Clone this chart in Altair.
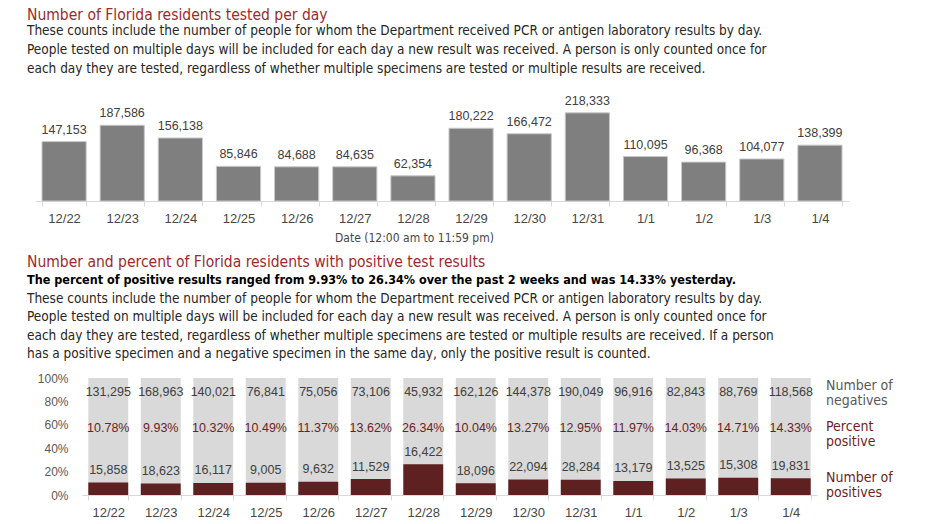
import altair as alt
import pandas as pd

# ---------------- data ----------------
dates = ["12/22", "12/23", "12/24", "12/25", "12/26", "12/27", "12/28",
         "12/29", "12/30", "12/31", "1/1", "1/2", "1/3", "1/4"]
tested = [147153, 187586, 156138, 85846, 84688, 84635, 62354,
          180222, 166472, 218333, 110095, 96368, 104077, 138399]
negatives = [131295, 168963, 140021, 76841, 75056, 73106, 45932,
             162126, 144378, 190049, 96916, 82843, 88769, 118568]
positives = [15858, 18623, 16117, 9005, 9632, 11529, 16422,
             18096, 22094, 28284, 13179, 13525, 15308, 19831]
pct_positive = [10.78, 9.93, 10.32, 10.49, 11.37, 13.62, 26.34,
                10.04, 13.27, 12.95, 11.97, 14.03, 14.71, 14.33]
pct_ticks = [0, 20, 40, 60, 80, 100]

title1 = "Number of Florida residents tested per day"
body1 = [
    "These counts include the number of people for whom the Department received PCR or antigen laboratory results by day.",
    "People tested on multiple days will be included for each day a new result was received. A person is only counted once for",
    "each day they are tested, regardless of whether multiple specimens are tested or multiple results are received.",
]
axis_title1 = "Date (12:00 am to 11:59 pm)"
title2 = "Number and percent of Florida residents with positive test results"
bold2 = "The percent of positive results ranged from 9.93% to 26.34% over the past 2 weeks and was 14.33% yesterday."
body2 = [
    "These counts include the number of people for whom the Department received PCR or antigen laboratory results by day.",
    "People tested on multiple days will be included for each day a new result was received. A person is only counted once for",
    "each day they are tested, regardless of whether multiple specimens are tested or multiple results are received. If a person",
    "has a positive specimen and a negative specimen in the same day, only the positive result is counted.",
]
legend_neg = "Number of\nnegatives"
legend_pct = "Percent\npositive"
legend_pos = "Number of\npositives"

# ---------------- style ----------------
TFONT = "DejaVu Sans Condensed, sans-serif"
NFONT = "Liberation Sans, Arial, sans-serif"
RED = "#9C2A2E"
TXT = "#262626"
LBL = "#404040"
AX = "#474747"
GRID = "#D9D9D9"
TOPBAR = "#7F7F7F"
NEG = "#D9D9D9"
POS = "#5E2020"
PCT = "#6B1F1F"
W = 735

# ---------------- header 1 ----------------
h1 = pd.DataFrame({"i": [0, 1, 2, 3], "text": [title1] + body1,
                   "kind": ["head", "body", "body", "body"]})
y_h1 = alt.Y("i:Q", axis=None,
             scale=alt.Scale(domain=[-0.3158, 4.2105], reverse=True, nice=False, zero=False))
base_h1 = alt.Chart(h1).encode(x=alt.value(-55), y=y_h1, text="text:N")
header1 = alt.layer(
    base_h1.transform_filter("datum.kind == 'head'").mark_text(
        align="left", baseline="middle", dy=2.8, font=TFONT, fontSize=15.5, color=RED),
    base_h1.transform_filter("datum.kind == 'body'").mark_text(
        align="left", baseline="middle", font=TFONT, fontSize=13.5, color=TXT),
).properties(width=W, height=86)

# ---------------- top bar chart ----------------
top_df = pd.DataFrame({"date": dates, "tested": tested})
x1 = alt.X("date:N", sort=dates,
           scale=alt.Scale(range=[-47, 767], paddingInner=0.24, paddingOuter=0.12),
           axis=alt.Axis(title=axis_title1, labelAngle=0, tickBand="extent", ticks=True,
                         tickSize=5, tickColor=GRID, domainColor=GRID, labelFont=NFONT,
                         labelFontSize=13, labelColor=AX, labelPadding=6,
                         titleFont=TFONT, titleFontSize=12, titleColor=AX,
                         titleFontWeight="normal", titleX=332, titleY=36,
                         titleAlign="center", titleBaseline="middle"))
y1 = alt.Y("tested:Q", axis=None,
           scale=alt.Scale(domain=[0, 270000], nice=False))
top_base = alt.Chart(top_df).encode(x=x1, y=y1)
top_chart = alt.layer(
    top_base.mark_bar(color=TOPBAR, stroke="#C8C8C8", strokeWidth=1),
    top_base.mark_text(baseline="bottom", dy=-5, font=NFONT, fontSize=12.5, color=LBL).encode(
        text=alt.Text("tested:Q", format=",")),
).properties(width=767, height=109)

# ---------------- header 2 ----------------
h2 = pd.DataFrame({"i": [0, 1, 2, 3, 4, 5], "text": [title2, bold2] + body2,
                   "kind": ["head", "bold", "body", "body", "body", "body"]})
y_h2 = alt.Y("i:Q", axis=None,
             scale=alt.Scale(domain=[-3.315, 6.304], reverse=True, nice=False, zero=False))
base_h2 = alt.Chart(h2).encode(x=alt.value(-55), y=y_h2, text="text:N")
header2 = alt.layer(
    base_h2.transform_filter("datum.kind == 'head'").mark_text(
        align="left", baseline="middle", font=TFONT, fontSize=15.5, color=RED),
    base_h2.transform_filter("datum.kind == 'bold'").mark_text(
        align="left", baseline="middle", font=TFONT, fontSize=12.5, fontWeight="bold", color="#000000"),
    base_h2.transform_filter("datum.kind == 'body'").mark_text(
        align="left", baseline="middle", font=TFONT, fontSize=13.5, color=TXT),
).properties(width=W, height=177)

# ---------------- bottom stacked chart ----------------
bot_df = pd.DataFrame({"date": dates, "neg": negatives, "pos": positives,
                       "pct": pct_positive})
bot_df["pct_label"] = [f"{p:.2f}%" for p in pct_positive]
x2 = alt.X("date:N", sort=dates,
           scale=alt.Scale(paddingInner=0.24, paddingOuter=0.12),
           axis=alt.Axis(title=None, labelAngle=0, tickBand="extent", ticks=True,
                         tickSize=5, tickColor=GRID, domainColor=GRID, labelFont=NFONT,
                         labelFontSize=13, labelColor=AX, labelPadding=6))
yscale2 = alt.Scale(domain=[0, 100], nice=False)
yaxis2 = alt.Axis(title=None, values=pct_ticks, grid=False, ticks=False,
                  domain=False, labelExpr="datum.value + '%'", labelFont=NFONT,
                  labelFontSize=12, labelColor="#595959", labelPadding=14,
                  labelOverlap=False, labelFlush=False)
bot_base = alt.Chart(bot_df).encode(x=x2)
full_bar = bot_base.mark_bar(color=NEG).transform_calculate(full="100").encode(
    y=alt.Y("full:Q", scale=yscale2, axis=yaxis2), y2=alt.datum(0))
pos_bar = bot_base.mark_bar(color=POS).encode(
    y=alt.Y("pct:Q", scale=yscale2, axis=yaxis2))
neg_text = bot_base.mark_text(baseline="middle", font=NFONT, fontSize=12.5, color=LBL).encode(
    y=alt.YDatum(88, axis=yaxis2), text=alt.Text("neg:Q", format=","))
pct_text = bot_base.mark_text(baseline="middle", font=NFONT, fontSize=12.5, color=PCT).encode(
    y=alt.YDatum(57.3, axis=yaxis2), text="pct_label:N")
pos_text = bot_base.mark_text(baseline="middle", dy=-12.5, font=NFONT, fontSize=12.5, color=LBL).encode(
    y=alt.Y("pct:Q", axis=yaxis2), text=alt.Text("pos:Q", format=","))


def legend_text(label, ypos, color):
    return alt.Chart(pd.DataFrame({"t": [label]})).mark_text(
        align="left", baseline="middle", lineBreak="\n", lineHeight=15,
        font=TFONT, fontSize=14, color=color).encode(
        x=alt.value(W + 9), y=alt.YDatum(ypos, axis=yaxis2), text="t:N")


bottom_chart = alt.layer(
    full_bar, pos_bar, neg_text, pct_text, pos_text,
    legend_text(legend_neg, 93.4, "#595959"),
    legend_text(legend_pct, 58.1, PCT),
    legend_text(legend_pos, 14.5, PCT),
).properties(width=W, height=117)

chart = alt.vconcat(header1, top_chart, header2, bottom_chart,
                    spacing=0, bounds="flush").properties(
    padding={"left": 19, "top": -2, "right": 5, "bottom": 0}
).configure_view(stroke=None).configure_concat(spacing=0).configure_axisY(
    labelOverlap=False, labelFlush=False)

chart.save("out.html", embed_options={"renderer": "svg", "actions": False})
